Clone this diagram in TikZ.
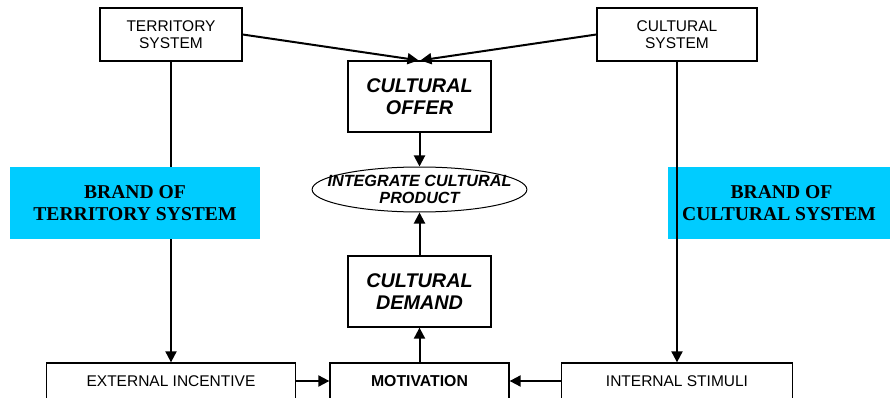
\documentclass[tikz,border=0pt]{standalone}
\usepackage{fontspec}
\setmainfont{Liberation Serif}
\setsansfont{Liberation Sans}
\usepackage{tikz}
\usetikzlibrary{arrows.meta,shapes.geometric}
\usepackage{xcolor}
\definecolor{BrandCyan}{HTML}{00CCFF}
\newcommand\nodets{TERRITORY\\SYSTEM}
\newcommand\nodecs{CULTURAL\\SYSTEM}
\newcommand\nodeco{CULTURAL\\OFFER}
\newcommand\nodeicp{INTEGRATE CULTURAL\\PRODUCT}
\newcommand\nodecd{CULTURAL\\DEMAND}
\newcommand\nodemot{MOTIVATION}
\newcommand\nodeei{EXTERNAL INCENTIVE}
\newcommand\nodeis{INTERNAL STIMULI}
\newcommand\nodebt{BRAND OF\\TERRITORY SYSTEM}
\newcommand\nodebc{BRAND OF\\CULTURAL SYSTEM}
\tikzstyle{plainbox} = [rectangle, draw, line width=1.3pt, inner sep=0pt, align=center, font=\sffamily\fontsize{15.5}{17.5}\selectfont]
\tikzstyle{bigbox} = [plainbox, font=\sffamily\bfseries\itshape\fontsize{19.8}{22.5}\selectfont]
\tikzstyle{boldbox} = [plainbox, font=\sffamily\bfseries\fontsize{15.8}{17.5}\selectfont]
\tikzstyle{prodellipse} = [ellipse, draw, line width=1pt, inner xsep=-16pt, inner ysep=-6pt, align=center, font=\sffamily\bfseries\itshape\fontsize{16.2}{16.7}\selectfont]
\tikzstyle{brandbox} = [rectangle, fill=BrandCyan, inner sep=0pt, align=center, font=\bfseries\fontsize{19.6}{22.7}\selectfont]
\tikzset{>={Triangle[length=11pt,width=11pt]}, link/.style={->, line width=2pt}}

\begin{document}
\begin{tikzpicture}[x=1pt, y=-1pt]
\useasboundingbox (0,0) rectangle (890,398);
\node[plainbox, minimum width=142pt, minimum height=53pt] (ts) at (171, 34.5) {\nodets};
\node[plainbox, minimum width=160pt, minimum height=53pt] (cs) at (677, 34.5) {\nodecs};
\node[bigbox, minimum width=143pt, minimum height=71pt] (co) at (419.5, 96.5) {\nodeco};
\node[prodellipse, minimum width=212pt, minimum height=45pt] (icp) at (419.5, 189.5) {\nodeicp};
\node[bigbox, minimum width=143pt, minimum height=71pt] (cd) at (419.5, 291.5) {\nodecd};
\node[boldbox, minimum width=179pt, minimum height=36pt] (mot) at (419.5, 381) {\nodemot};
\node[plainbox, minimum width=249pt, minimum height=36pt] (ei) at (171, 381) {\nodeei};
\node[plainbox, minimum width=231pt, minimum height=36pt] (is) at (677, 381) {\nodeis};
\draw [link] (ts.east) -- ([xshift=-1pt]co.north);
\draw [link] (cs.west) -- ([xshift=1pt]co.north);
\draw [link] (co.south) -- (icp.north);
\draw [link] (cd.north) -- (icp.south);
\draw [link] (mot.north) -- (cd.south);
\draw [link] (ei.east) -- (mot.west);
\draw [link] (is.west) -- (mot.east);
\draw [link] (ts.south) -- (ei.north);
\node[brandbox, minimum width=250pt, minimum height=72pt] (bt) at (135, 203) {\nodebt};
\node[brandbox, minimum width=222pt, minimum height=72pt] (bc) at (779, 203) {\hspace*{5pt}\nodebc};
\draw [link] (cs.south) -- (is.north);
\end{tikzpicture}
\end{document}
